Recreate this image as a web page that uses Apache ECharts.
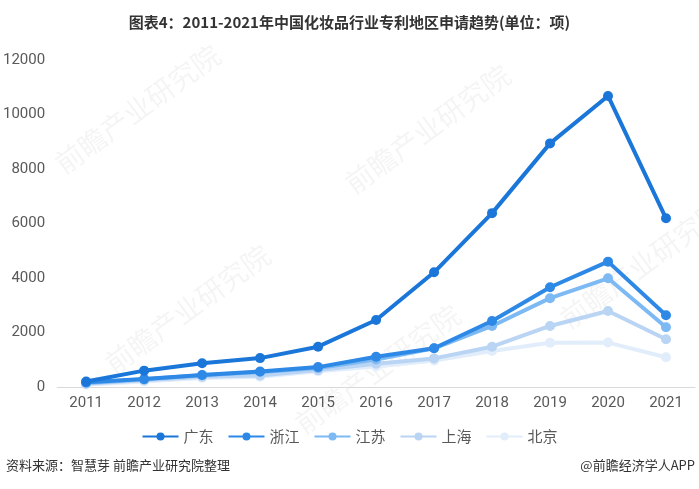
<!DOCTYPE html>
<html>
<head>
<meta charset="utf-8">
<script src="https://cdn.jsdelivr.net/npm/echarts@6/dist/echarts.min.js"></script>
<style>
  html, body { margin: 0; padding: 0; background: #fff; }
  #main { width: 699px; height: 489px; }
</style>
</head>
<body>
<div id="main"></div>
<script>
// 年份
var years = ['2011', '2012', '2013', '2014', '2015', '2016', '2017', '2018', '2019', '2020', '2021'];
// 各地区专利申请数量(项)
var guangdong = [200, 600, 870, 1060, 1480, 2460, 4210, 6380, 8940, 10680, 6190];
var zhejiang = [170, 290, 440, 570, 730, 1110, 1420, 2420, 3660, 4600, 2630];
var jiangsu = [150, 280, 430, 550, 700, 1010, 1420, 2240, 3260, 3990, 2190];
var shanghai = [120, 250, 380, 420, 620, 850, 1050, 1480, 2240, 2790, 1750];
var beijing = [80, 200, 330, 380, 580, 750, 970, 1320, 1620, 1630, 1090];
var regionNames = ['广东', '浙江', '江苏', '上海', '北京'];
var colors = ['#1a76d8', '#2e89e6', '#7db9f3', '#bad4f4', '#e2edfb'];

var myChart = echarts.init(document.getElementById('main'));

function makeSeries(name, data, color, z) {
  return {
    name: name,
    type: 'line',
    data: data,
    z: z,
    symbol: 'circle',
    symbolSize: 10,
    lineStyle: { width: 4, color: color },
    itemStyle: { color: color },
    emphasis: { disabled: true }
  };
}

// 水印
var wm = function (x, y) {
  return {
    type: 'text',
    left: x,
    top: y,
    rotation: Math.PI / 5,
    z: 0,
    style: { text: '前瞻产业研究院', fill: 'rgba(0,0,0,0.045)', font: '28px "Noto Sans CJK SC"' }
  };
};

myChart.setOption({
  animation: false,
  title: {
    text: '图表4：2011-2021年中国化妆品行业专利地区申请趋势(单位：项)',
    left: 'center',
    top: 10,
    textStyle: { fontSize: 15, fontWeight: 'bold', color: '#333', fontFamily: 'Noto Sans CJK SC' }
  },
  graphic: [
    wm(50, 40), wm(340, 60), wm(100, 240), wm(555, 195), wm(290, 300),
    {
      type: 'text', left: 6, top: 459,
      style: { text: '资料来源：智慧芽 前瞻产业研究院整理', fill: '#333', font: '13px "Noto Sans CJK SC"' }
    },
    {
      type: 'text', right: 4, top: 459,
      style: { text: '@前瞻经济学人APP', fill: '#333', font: '13px "Noto Sans CJK SC"' }
    }
  ],
  legend: {
    data: regionNames,
    bottom: 40,
    left: 'center',
    itemWidth: 36,
    itemHeight: 10,
    itemGap: 14,
    textStyle: { fontSize: 15, color: '#595959', fontFamily: 'Noto Sans CJK SC' }
  },
  grid: { left: 57, right: 4, top: 60, bottom: 102 },
  xAxis: {
    type: 'category',
    data: years,
    boundaryGap: true,
    axisLine: { lineStyle: { color: '#d9d9d9', width: 1 } },
    axisTick: { show: false },
    axisLabel: { fontSize: 15, color: '#595959', margin: 9, fontFamily: 'Roboto' }
  },
  yAxis: {
    type: 'value',
    min: 0,
    max: 12000,
    interval: 2000,
    splitLine: { show: false },
    axisLine: { show: false },
    axisTick: { show: false },
    axisLabel: {
      fontSize: 15, color: '#595959', margin: 12, fontFamily: 'Roboto',
      formatter: function (v) { return String(v); }
    }
  },
  series: [
    makeSeries(regionNames[0], guangdong, colors[0], 10),
    makeSeries(regionNames[1], zhejiang, colors[1], 9),
    makeSeries(regionNames[2], jiangsu, colors[2], 8),
    makeSeries(regionNames[3], shanghai, colors[3], 7),
    makeSeries(regionNames[4], beijing, colors[4], 6)
  ]
});
</script>
</body>
</html>
